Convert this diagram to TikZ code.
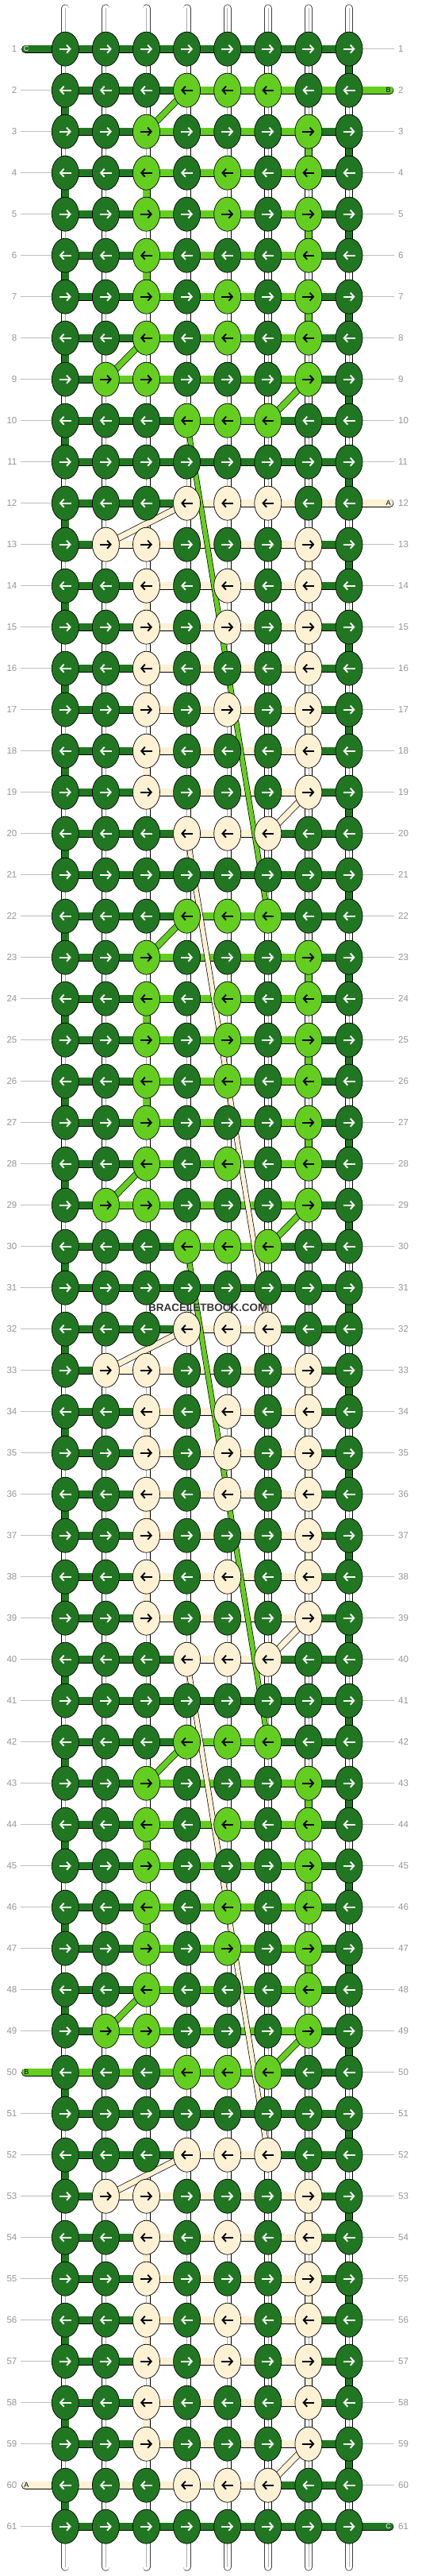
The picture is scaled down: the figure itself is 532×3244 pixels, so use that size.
\documentclass[tikz,border=0pt]{standalone}
\usepackage{fontspec}
\setmainfont{Liberation Sans}
\usetikzlibrary{shapes.geometric,arrows.meta}
\definecolor{cD}{RGB}{33,119,33}
\definecolor{cL}{RGB}{100,206,32}
\definecolor{cW}{RGB}{255,241,212}
\definecolor{cO}{RGB}{255,255,255}
\definecolor{lnO}{RGB}{175,175,175}
\colorlet{lnD}{cD}\colorlet{lnL}{cL}\colorlet{lnW}{cW}
\colorlet{arD}{white}\colorlet{arL}{black}\colorlet{arW}{black}
\definecolor{numgray}{RGB}{150,150,150}
\definecolor{rulegray}{RGB}{190,190,190}
\pgfdeclarelayer{bgfill}\pgfdeclarelayer{segs}\pgfdeclarelayer{diags}
\pgfsetlayers{bgfill,segs,diags,main}
% knot rows
\def\KA{D,D,D,D,D,D,D,D}
\def\KB{D,D,D,L,L,L,D,D}
\def\KC{D,D,L,D,D,D,L,D}
\def\KD{D,D,L,D,L,D,L,D}
\def\KE{D,L,L,D,D,D,L,D}
\def\KF{D,D,D,W,W,W,D,D}
\def\KG{D,W,W,D,D,D,W,D}
\def\KH{D,D,W,D,W,D,W,D}
\def\KI{D,D,W,D,D,D,W,D}
% horizontal segments
\def\HA{D,D,D,D,D,D,D}
\def\HB{D,D,D,L,L,L,L}
\def\HC{D,D,L,L,L,L,D}
\def\HE{D,L,L,L,L,L,D}
\def\HF{D,D,D,L,L,D,D}
\def\HG{D,D,D,W,W,W,W}
\def\HH{D,W,W,W,W,W,D}
\def\HI{D,D,W,W,W,W,D}
\def\HJ{D,D,D,W,W,D,D}
\def\HK{L,L,L,L,L,D,D}
\def\HL{W,W,W,W,W,D,D}
% vertical segments
\def\VO{O,O,O,O,O,O,O,D}
\def\VE{D,O,O,O,O,O,O,O}
\def\VGo{O,O,O,O,O,O,L,D}
\def\VGe{D,O,L,O,O,O,O,O}
\def\VCo{O,O,O,O,O,O,W,D}
\def\VCe{D,O,W,O,O,O,O,O}
\begin{document}
\begin{tikzpicture}[x=1pt,y=-1pt,
  knot/.style={ellipse,draw=black,line width=0.7pt,minimum width=34pt,minimum height=43pt,inner sep=0pt},
  seg/.style={line width=0.7pt,draw=black,double distance=8.6pt},
  capstrand/.style={line width=0.8pt,draw=black!75,double=white,double distance=8.4pt,line cap=round},
  diag/.style={line width=0.7pt,draw=black,double distance=7pt},
  longdiag/.style={line width=0.7pt,draw=black,double distance=5.6pt},
  arr/.style={line width=1.9pt,-{Straight Barb[length=4.5pt,width=10pt]}},
  num/.style={text=numgray,font=\fontsize{11.5}{12}\selectfont,inner sep=0pt},
  rule/.style={draw=rulegray,line width=0.9pt},
  taillab/.style={font=\fontsize{9}{9}\selectfont,inner sep=0pt}]
\useasboundingbox (0,0) rectangle (532,3244);
\begin{pgfonlayer}{bgfill}
\fill[white] (0,0) rectangle (532,3244);
\end{pgfonlayer}
% knots and arrows
\foreach \row [count=\r] in {\KA,\KB,\KC,\KD,\KD,\KC,\KD,\KD,\KE,\KB,
  \KA,\KF,\KG,\KH,\KH,\KI,\KH,\KI,\KI,\KF,
  \KA,\KB,\KC,\KD,\KD,\KD,\KC,\KD,\KE,\KB,
  \KA,\KF,\KG,\KH,\KH,\KH,\KI,\KH,\KI,\KF,
  \KA,\KB,\KC,\KD,\KC,\KD,\KD,\KC,\KE,\KB,
  \KA,\KF,\KG,\KH,\KI,\KH,\KH,\KI,\KI,\KF,\KA} {
  \edef\tmp{\row}
  \pgfmathsetmacro\yy{61.7+(\r-1)*52}
  \pgfmathtruncatemacro\dir{mod(\r,2)==1 ? 1 : -1}
  \foreach \c [count=\i] in \tmp {
    \pgfmathsetmacro\xx{82.3+(\i-1)*51.1}
    \node[knot,fill=c\c] (k-\r-\i) at (\xx,\yy) {};
    \draw[arr,draw=ar\c] ([xshift={-7.5*\dir}]k-\r-\i.center) -- ([xshift={7.5*\dir}]k-\r-\i.center);
  }
  \node[num,anchor=east] (nl-\r) at (21.5,\yy) {\r};
  \node[num,anchor=west] (nr-\r) at (502,\yy) {\r};
}
\begin{pgfonlayer}{segs}
% vertical segments
\foreach \row [count=\r] in {\VO,\VE,\VGo,\VGe,\VGo,\VGe,\VGo,\VE,\VO,\VE,
  \VO,\VE,\VCo,\VCe,\VCo,\VCe,\VCo,\VCe,\VO,\VE,
  \VO,\VE,\VGo,\VGe,\VGo,\VGe,\VGo,\VE,\VO,\VE,
  \VO,\VE,\VCo,\VCe,\VCo,\VCe,\VCo,\VCe,\VO,\VE,
  \VO,\VE,\VGo,\VGe,\VGo,\VGe,\VGo,\VE,\VO,\VE,
  \VO,\VE,\VCo,\VCe,\VCo,\VCe,\VCo,\VCe,\VO,\VE} {
  \edef\tmp{\row}
  \pgfmathtruncatemacro\rn{\r+1}
  \foreach \c [count=\i] in \tmp {
    \draw[seg,double=c\c] (k-\r-\i.center) -- (k-\rn-\i.center);
    \draw[line width=0.6pt,draw=ln\c] (k-\r-\i.center) -- (k-\rn-\i.center);
  }
}
% horizontal segments
\foreach \row [count=\r] in {\HA,\HB,\HC,\HC,\HC,\HC,\HC,\HC,\HE,\HF,
  \HA,\HG,\HH,\HI,\HI,\HI,\HI,\HI,\HI,\HJ,
  \HA,\HF,\HC,\HC,\HC,\HC,\HC,\HC,\HE,\HF,
  \HA,\HJ,\HH,\HI,\HI,\HI,\HI,\HI,\HI,\HJ,
  \HA,\HF,\HC,\HC,\HC,\HC,\HC,\HC,\HE,\HK,
  \HA,\HJ,\HH,\HI,\HI,\HI,\HI,\HI,\HI,\HL,\HA} {
  \edef\tmp{\row}
  \foreach \c [count=\i] in \tmp {
    \pgfmathtruncatemacro\j{\i+1}
    \draw[seg,double=c\c] (k-\r-\i.center) -- (k-\r-\j.center);
  }
}
% top and bottom strand ends
\foreach \i in {1,...,8} {
  \pgfmathsetmacro\xx{82.3+(\i-1)*51.1}
  \coordinate (top-\i) at (\xx,10.4);
  \coordinate (bot-\i) at (\xx,3232.6);
  \draw[capstrand] (top-\i) -- (k-1-\i.center);
  \draw[line width=0.6pt,draw=lnO] (top-\i) -- (k-1-\i.center);
  \draw[capstrand] (k-61-\i.center) -- (bot-\i);
  \draw[line width=0.6pt,draw=lnO] (k-61-\i.center) -- (bot-\i);
}
% grey row rules
\foreach \r in {1,...,61} {
  \pgfmathsetmacro\yy{61.7+(\r-1)*52}
  \coordinate (ll-\r) at (26,\yy);
  \coordinate (rr-\r) at (497,\yy);
  \ifnum\r=1 \else\ifnum\r=50 \else\ifnum\r=60 \else
    \draw[rule] (ll-\r) -- (k-\r-1.west);
  \fi\fi\fi
  \ifnum\r=2 \else\ifnum\r=12 \else\ifnum\r=61 \else
    \draw[rule] (k-\r-8.east) -- (rr-\r);
  \fi\fi\fi
}
% thread tails
\coordinate (lt-1) at (32.1,61.7);
\coordinate (lt-50) at (32.1,2609.7);
\coordinate (lt-60) at (32.1,3129.7);
\coordinate (rt-2) at (491.4,113.7);
\coordinate (rt-12) at (491.4,633.7);
\coordinate (rt-61) at (491.4,3181.7);
\draw[seg,double=cD,line cap=round] (lt-1) -- (k-1-1.center);
\draw[seg,double=cL,line cap=round] (lt-50) -- (k-50-1.center);
\draw[seg,double=cW,line cap=round] (lt-60) -- (k-60-1.center);
\draw[seg,double=cL,line cap=round] (k-2-8.center) -- (rt-2);
\draw[seg,double=cW,line cap=round] (k-12-8.center) -- (rt-12);
\draw[seg,double=cD,line cap=round] (k-61-8.center) -- (rt-61);
\end{pgfonlayer}
\node[taillab,text=white] (tl-1) at (33,61.7) {C};
\node[taillab,text=black] (tl-50) at (33.5,2609.7) {B};
\node[taillab,text=black] (tl-60) at (33.5,3129.7) {A};
\node[taillab,text=black] (tr-2) at (489.5,113.7) {B};
\node[taillab,text=black] (tr-12) at (489.5,633.7) {A};
\node[taillab,text=white] (tr-61) at (489.5,3181.7) {C};
% diagonals
\begin{pgfonlayer}{diags}
\foreach \ra/\ca/\rb/\cb/\col in {2/4/3/3/L,8/3/9/2/L,9/7/10/6/L,22/4/23/3/L,28/3/29/2/L,29/7/30/6/L,
  42/4/43/3/L,48/3/49/2/L,49/7/50/6/L,12/4/13/2/W,19/7/20/6/W,32/4/33/2/W,39/7/40/6/W,52/4/53/2/W,59/7/60/6/W} {
  \draw[diag,double=c\col] (k-\ra-\ca.center) -- (k-\rb-\cb.center);
}
\foreach \ra/\ca/\rb/\cb/\col in {10/4/22/6/L,20/4/32/6/W,30/4/42/6/L,40/4/52/6/W} {
  \draw[longdiag,double=c\col] (k-\ra-\ca.center) -- (k-\rb-\cb.center);
}
\end{pgfonlayer}
% watermark
\node[font=\bfseries\fontsize{13.5}{14}\selectfont,text=black!78,inner sep=0pt] (wm) at (261.7,1647.3) {BRACELETBOOK.COM};
\end{tikzpicture}
\end{document}
